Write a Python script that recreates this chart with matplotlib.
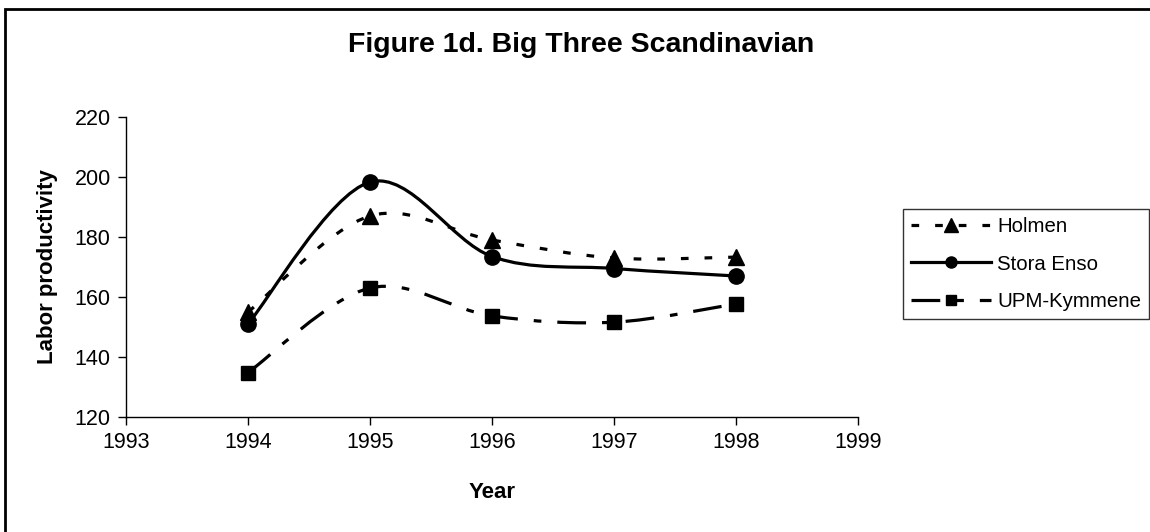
import matplotlib
matplotlib.use("Agg")
import matplotlib.pyplot as plt
from matplotlib.path import Path
from matplotlib.patches import PathPatch, Rectangle
from matplotlib.lines import Line2D
import numpy as np

plt.rcParams['font.family'] = ['Liberation Sans', 'DejaVu Sans']

years = [1994, 1995, 1996, 1997, 1998]
holmen = [155, 187, 179, 173, 173.3]
stora_enso = [151, 198.3, 173.5, 169.5, 167]
upm_kymmene = [134.8, 163, 153.7, 151.6, 157.7]

series_names = ["Holmen", "Stora Enso", "UPM-Kymmene"]
x_ticks = [1993, 1994, 1995, 1996, 1997, 1998, 1999]
y_ticks = [120, 140, 160, 180, 200, 220]

fig = plt.figure(figsize=(11.5, 5.32), dpi=100)
ax = fig.add_axes([126/1150, 1-417/532, (858-126)/1150, (417-117)/532])


def smooth_path(xs, ys):
    """Excel-style smoothed line: cubic Bezier through the data points."""
    pts = np.column_stack([xs, ys]).astype(float)
    n = len(pts)
    verts = [pts[0]]
    codes = [Path.MOVETO]
    for i in range(n - 1):
        p0 = pts[i - 1] if i > 0 else pts[i]
        p1 = pts[i]
        p2 = pts[i + 1]
        p3 = pts[i + 2] if i + 2 < n else pts[i + 1]
        c1 = p1 + (p2 - p0) / 6.0
        c2 = p2 - (p3 - p1) / 6.0
        verts += [c1, c2, p2]
        codes += [Path.CURVE4] * 3
    return Path(verts, codes)


lw = 2.3
styles = [
    dict(values=holmen, marker='^', ms=12, lms=10, dashes=(2.4, 5.0)),
    dict(values=stora_enso, marker='o', ms=11, lms=8, dashes=None),
    dict(values=upm_kymmene, marker='s', ms=10, lms=7.5, dashes=(9.0, 5.0, 2.4, 5.0)),
]

handles = []
for name, st in zip(series_names, styles):
    path = smooth_path(years, st['values'])
    ls = (0, st['dashes']) if st['dashes'] else '-'
    patch = PathPatch(path, facecolor='none', edgecolor='black', lw=lw,
                      linestyle=ls, capstyle='butt', joinstyle='round', zorder=2)
    ax.add_patch(patch)
    ax.plot(years, st['values'], linestyle='none', marker=st['marker'],
            ms=st['ms'], color='black', zorder=3)
    h = Line2D([], [], color='black', lw=lw, linestyle='-',
               marker=st['marker'], ms=st['lms'])
    if st['dashes']:
        h.set_dashes(st['dashes'])
    handles.append(h)

ax.set_xlim(1993, 1999)
ax.set_ylim(120, 220)
ax.set_xticks(x_ticks)
ax.set_yticks(y_ticks)
ax.tick_params(axis='both', direction='out', length=6, width=1, labelsize=15.5,
               colors='black', pad=5)
for s in ['top', 'right']:
    ax.spines[s].set_visible(False)
for s in ['left', 'bottom']:
    ax.spines[s].set_linewidth(1)
    ax.spines[s].set_color('black')

ax.set_xlabel("Year", fontsize=16, fontweight='bold', va='center')
ax.xaxis.set_label_coords(0.5, (417-493)/300)
ax.set_ylabel("Labor productivity", fontsize=16, fontweight='bold', va='center')
ax.yaxis.set_label_coords((47-126)/732, 0.5)

fig.text(581/1150, 1-45/532, "Figure 1d. Big Three Scandinavian", ha='center',
         va='center', fontsize=20.5, fontweight='bold')

leg = fig.legend(handles, series_names, loc='upper left',
                 bbox_to_anchor=(903/1150, 1-209/532), fontsize=14.7,
                 frameon=True, fancybox=False, edgecolor='black',
                 handlelength=3.9, borderpad=0.4, labelspacing=0.9,
                 handletextpad=0.3, borderaxespad=0)
leg.get_frame().set_linewidth(1)

# figure border (only left and top visible in the reference)
fig.patches.append(Rectangle((5/1150, -0.1), 1.2, 1 - 9/532 + 0.1,
                             transform=fig.transFigure, fill=False,
                             edgecolor='black', lw=2))

fig.savefig("out.png", dpi=100)
